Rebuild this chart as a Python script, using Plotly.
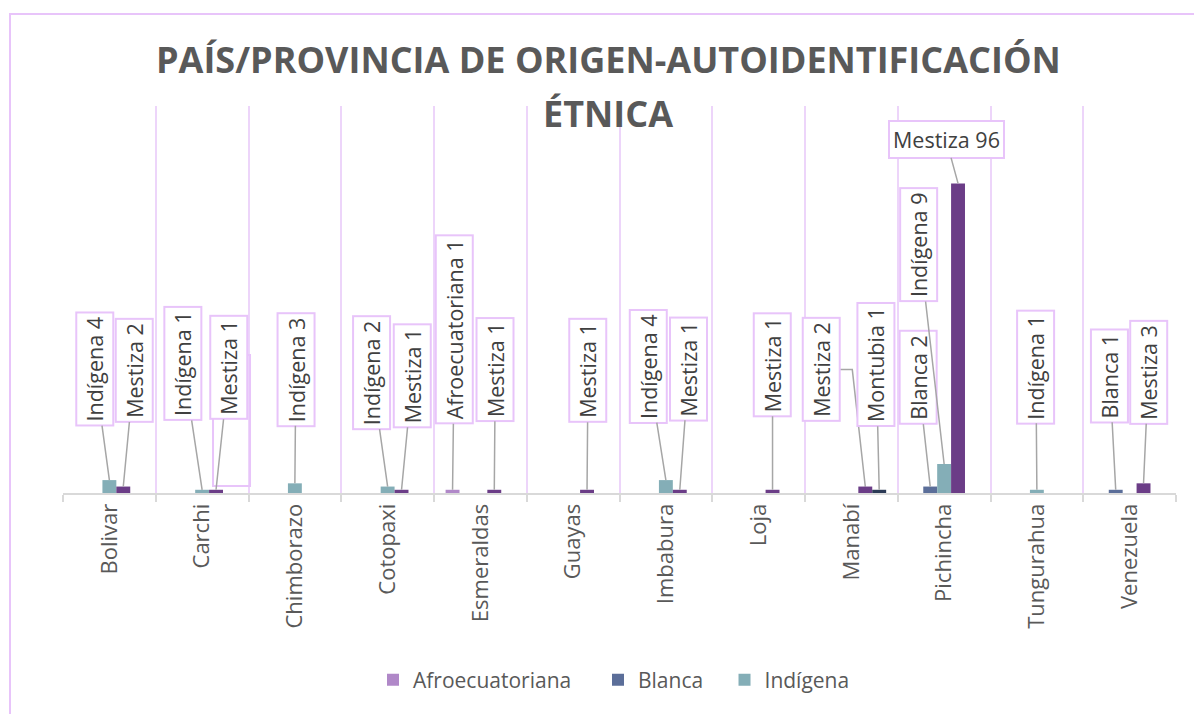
import plotly.graph_objects as go

categories = ["Bolivar", "Carchi", "Chimborazo", "Cotopaxi", "Esmeraldas", "Guayas",
              "Imbabura", "Loja", "Manabí", "Pichincha", "Tungurahua", "Venezuela"]
series_names = ["Afroecuatoriana", "Blanca", "Indígena", "Mestiza", "Montubia"]
afroecuatoriana = [None, None, None, None, 1, None, None, None, None, None, None, None]
blanca = [None, None, None, None, None, None, None, None, None, 2, None, 1]
indigena = [4, 1, 3, 2, None, None, 4, None, None, 9, 1, None]
mestiza = [2, 1, None, 1, 1, 1, 1, 1, 2, 96, None, 3]
montubia = [None, None, None, None, None, None, None, None, 1, None, None, None]
title_lines = ["PAÍS/PROVINCIA DE ORIGEN-AUTOIDENTIFICACIÓN", "ÉTNICA"]

series_values = [afroecuatoriana, blanca, indigena, mestiza, montubia]
colors = ["#B088C8", "#5B6E99", "#84AEB7", "#6B3D87", "#2B3A55"]
show_in_legend = [True, True, True, False, False]
legend_pad = [4, 3, 0, 0, 0]  # extra spacing after legend entries

# label box offsets (pixels) relative to bar top: (category, series) -> (dx, dy)
label_offsets = {
    (0, 2): (-15, -111), (0, 3): (11, -116),
    (1, 2): (-19, -126), (1, 3): (13, -122),
    (2, 2): (1, -114),
    (3, 2): (-16, -114), (3, 3): (11, -114),
    (4, 0): (2, -160), (4, 3): (1, -120),
    (5, 3): (1, -119),
    (6, 2): (-18, -114), (6, 3): (9, -121),
    (7, 3): (0, -125),
    (8, 3): (-44, -117), (8, 4): (-3, -125),
    (9, 1): (-12, -109), (9, 2): (-25, -219), (9, 3): (-12, -44),
    (10, 2): (-1, -123),
    (11, 1): (-6, -114), (11, 3): (5, -111),
}
horizontal_labels = {(9, 3)}
elbow_labels = {(8, 3): -13}  # leader line with horizontal segment ending at this x offset

FONT = "Open Sans"
GREY = "#595959"
PINK = "#E8C4FA"
GRID = "#EDD5FA"
LEADER = "#A6A6A6"

ML, MR, MT, MB = 63, 18, 106, 221
W, H = 1194, 714
PH = H - MT - MB
PW = W - ML - MR

fig = go.Figure()
for name, vals, col, sl, pad in zip(series_names, series_values, colors, show_in_legend, legend_pad):
    fig.add_trace(go.Bar(x=categories, y=vals, name=name + "\u00a0" * pad, marker_color=col,
                         marker_line_width=0, showlegend=sl))

bargap = 0.25
nser = len(series_names)
bw = (1 - bargap) / nser
annotations = []
shapes = []
LABEL_FONT = dict(family=FONT, size=21.5, color="#404040")
for (ci, si), (dx, dy) in label_offsets.items():
    v = series_values[si][ci]
    xpos = ci + (si - (nser - 1) / 2) * bw
    common = dict(x=xpos, y=v, xref="x", yref="y",
                  text=f"{series_names[si]} {v}",
                  textangle=0 if (ci, si) in horizontal_labels else -90,
                  font=LABEL_FONT, bgcolor="white", bordercolor=PINK,
                  borderwidth=2, borderpad=3)
    if (ci, si) in elbow_labels:
        ex = elbow_labels[(ci, si)]
        annotations.append(dict(**common, showarrow=False, xshift=dx, yshift=-dy))
        shapes.append(dict(type="path", xref="x", yref="y",
                           xsizemode="pixel", ysizemode="pixel",
                           xanchor=xpos, yanchor=v,
                           path=f"M {dx + 18},{-dy} L {ex},{-dy} L 0,0",
                           line=dict(color=LEADER, width=1.5), layer="below"))
    else:
        annotations.append(dict(**common, showarrow=True, arrowhead=0, arrowwidth=1.5,
                                arrowcolor=LEADER, standoff=0, ax=dx, ay=dy,
                                axref="pixel", ayref="pixel"))

def py2paper(py):
    return (H - MB - py) / PH

def px2paper(px):
    return (px - ML) / PW

for line, ypx in zip(title_lines, [60, 114]):
    annotations.append(dict(x=px2paper(608), y=py2paper(ypx), xref="paper", yref="paper",
                            text=f"<b>{line}</b>", showarrow=False,
                            xanchor="center", yanchor="middle",
                            font=dict(family=FONT, size=36, color=GREY)))

shapes += [
    dict(type="rect", xref="paper", yref="paper",
         x0=px2paper(10), x1=px2paper(1210), y0=py2paper(730), y1=py2paper(14),
         line=dict(color=PINK, width=2), fillcolor="rgba(0,0,0,0)", layer="below"),
    # duplicate empty label frame drawn in Carchi
    dict(type="rect", xref="x", yref="y",
         x0=1 + (213 - 202.1) / 92.75, x1=1 + (250 - 202.1) / 92.75,
         y0=(493 - 486) / 3.225, y1=(493 - 355) / 3.225,
         line=dict(color=PINK, width=2), fillcolor="rgba(0,0,0,0)", layer="above"),
]

fig.update_layout(
    width=W, height=H,
    margin=dict(l=ML, r=MR, t=MT, b=MB),
    paper_bgcolor="white", plot_bgcolor="white",
    barmode="group", bargap=bargap, bargroupgap=0,
    font=dict(family=FONT, color=GREY),
    annotations=annotations, shapes=shapes,
    legend=dict(orientation="h", x=px2paper(614), xanchor="center",
                y=py2paper(680), yanchor="middle",
                font=dict(family=FONT, size=21, color=GREY),
                itemsizing="constant", entrywidth=0),
    xaxis=dict(type="category", tickangle=-90, tickson="boundaries",
               ticks="outside", ticklen=7, tickcolor="#D9D9D9", tickwidth=2,
               showline=True, linecolor="#D9D9D9", linewidth=2,
               showgrid=True, gridcolor=GRID, gridwidth=1.5,
               tickfont=dict(family=FONT, size=22, color=GREY),
               range=[-0.5, len(categories) - 0.5]),
    yaxis=dict(range=[0, 120], visible=False, showgrid=False, zeroline=False),
)

fig.write_html("out.html", post_script="document.body.style.margin='0';",
               config={"displayModeBar": False})
